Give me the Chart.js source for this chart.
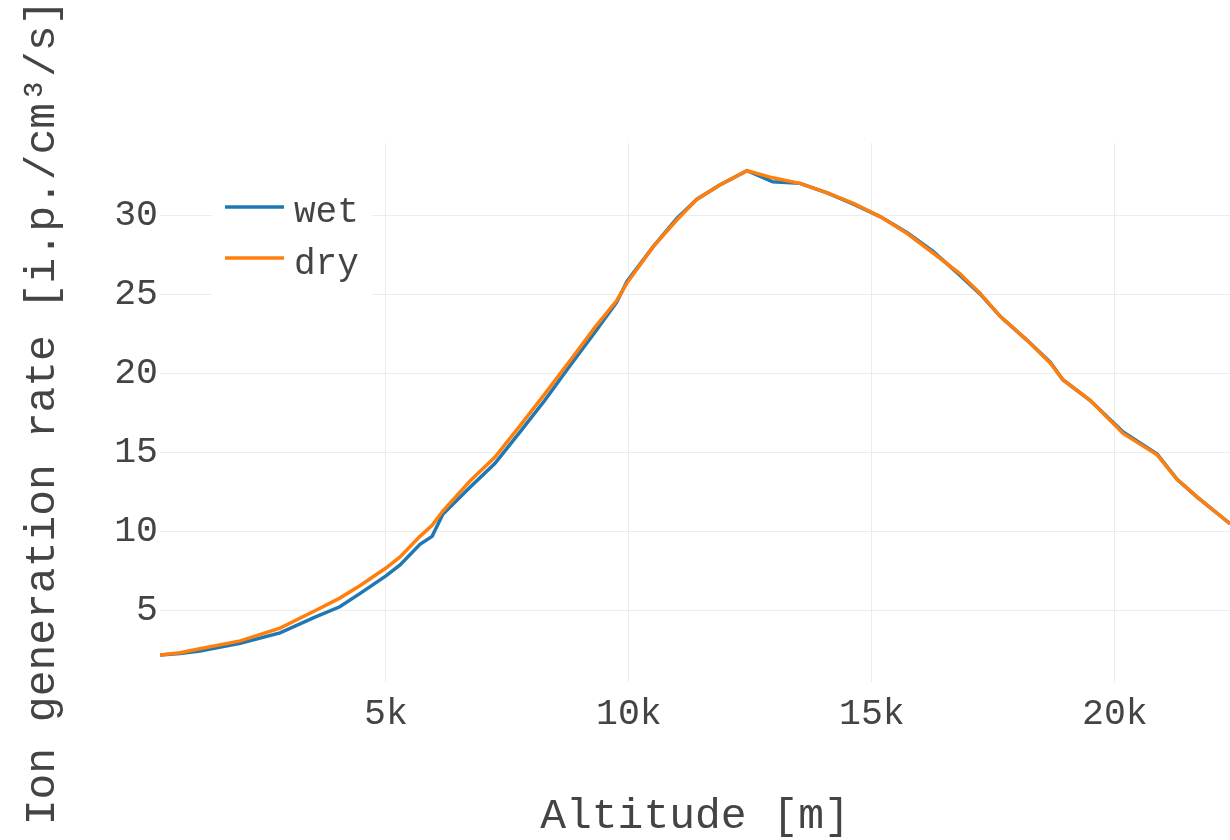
<!DOCTYPE html>
<html>
<head>
<meta charset="utf-8">
<title>Ion generation rate vs altitude</title>
<script src="https://cdn.jsdelivr.net/npm/chart.js@4.4.1/dist/chart.umd.min.js"></script>
<style>
  html, body { margin: 0; padding: 0; background: #ffffff; }
  #wrap { width: 1230px; height: 840px; }
</style>
</head>
<body>
<div id="wrap"><canvas id="plot" width="1230" height="840"></canvas></div>
<script>
// Altitude samples [m] shared by both profiles
const altitude = [350, 760, 1170, 2000, 2820, 3540, 4050, 4470, 5000, 5290,
  5700, 5950, 6170, 6730, 7240, 7760, 8270, 8790, 9300, 9750,
  9960, 10500, 10990, 11400, 11870, 12430, 12960, 13520, 14080, 14610,
  15170, 15720, 16260, 16810, 17230, 17640, 18190, 18670, 18930, 19490,
  20170, 20870, 21280, 21690, 22370];

// Ion generation rate [i.p./cm^3/s], humid atmosphere
const wetRate = [2.2, 2.3, 2.45, 2.95, 3.6, 4.6, 5.25, 6.1, 7.2, 7.9,
  9.2, 9.7, 11.1, 12.8, 14.3, 16.3, 18.3, 20.5, 22.6, 24.5,
  25.8, 28.0, 29.8, 31.0, 31.9, 32.8, 32.1, 32.0, 31.4, 30.7,
  29.9, 28.9, 27.7, 26.2, 25.0, 23.6, 22.1, 20.7, 19.6, 18.3,
  16.3, 14.9, 13.3, 12.2, 10.5];

// Ion generation rate [i.p./cm^3/s], dry atmosphere
const dryRate = [2.2, 2.35, 2.6, 3.1, 3.9, 5.0, 5.8, 6.6, 7.7, 8.4,
  9.7, 10.4, 11.3, 13.2, 14.7, 16.7, 18.7, 20.8, 22.9, 24.6,
  25.7, 28.0, 29.7, 31.0, 31.9, 32.8, 32.35, 32.0, 31.4, 30.75,
  29.9, 28.85, 27.6, 26.3, 25.05, 23.6, 22.1, 20.65, 19.6, 18.3,
  16.2, 14.85, 13.3, 12.2, 10.5];

const seriesNames = ['wet', 'dry'];
const seriesColors = ['#1f77b4', '#ff7f0e'];

const xTicks = [5000, 10000, 15000, 20000];
const xTickLabels = ['5k', '10k', '15k', '20k'];
const yTicks = [5, 10, 15, 20, 25, 30];

const FONT = '"Liberation Mono", "DejaVu Sans Mono", monospace';
const TEXT = '#444444';
const GRID = '#ececec';

const toPoints = (ys) => altitude.map((a, i) => ({ x: a, y: ys[i] }));

// Legend drawn inside the plot, top-left, on a white backing box
const insetLegend = {
  id: 'insetLegend',
  afterDatasetsDraw(chart) {
    const ctx = chart.ctx;
    ctx.save();
    ctx.fillStyle = '#ffffff';
    ctx.fillRect(212, 182, 160, 114);
    chart.data.datasets.forEach((ds, i) => {
      const yLine = 207 + i * 51;
      ctx.strokeStyle = ds.borderColor;
      ctx.lineWidth = ds.borderWidth;
      ctx.beginPath();
      ctx.moveTo(225, yLine);
      ctx.lineTo(284, yLine);
      ctx.stroke();
      ctx.fillStyle = TEXT;
      ctx.font = '36px ' + FONT;
      ctx.textAlign = 'left';
      ctx.textBaseline = 'alphabetic';
      ctx.fillText(ds.label, 294, 222 + i * 52);
    });
    ctx.restore();
  }
};

new Chart(document.getElementById('plot'), {
  type: 'line',
  data: {
    datasets: [
      { label: seriesNames[0], data: toPoints(wetRate), borderColor: seriesColors[0],
        backgroundColor: seriesColors[0], borderWidth: 3.5, pointRadius: 0,
        tension: 0, fill: false, order: 1 },
      { label: seriesNames[1], data: toPoints(dryRate), borderColor: seriesColors[1],
        backgroundColor: seriesColors[1], borderWidth: 3.5, pointRadius: 0,
        tension: 0, fill: false, order: 0 }
    ]
  },
  options: {
    responsive: false,
    animation: false,
    devicePixelRatio: 1,
    layout: { padding: { top: 143, right: 0, left: 0, bottom: 0 } },
    plugins: { legend: { display: false }, tooltip: { enabled: false } },
    scales: {
      x: {
        type: 'linear',
        min: 350,
        max: 22370,
        grid: { color: GRID, lineWidth: 1, drawTicks: false },
        border: { display: false },
        afterBuildTicks: (s) => { s.ticks = xTicks.map(v => ({ value: v })); },
        afterFit: (s) => { s.height = 158; },
        ticks: {
          padding: 10,
          color: TEXT,
          font: { family: FONT, size: 36.5 },
          maxRotation: 0,
          callback: (v) => xTickLabels[xTicks.indexOf(v)]
        },
        title: {
          display: true,
          text: 'Altitude [m]',
          color: TEXT,
          font: { family: FONT, size: 43 },
          padding: { top: 0, bottom: -2 }
        }
      },
      y: {
        min: 0.5,
        max: 34.55,
        grid: { color: GRID, lineWidth: 1, drawTicks: false },
        border: { display: false },
        afterBuildTicks: (s) => { s.ticks = yTicks.map(v => ({ value: v })); },
        afterFit: (s) => { s.width = 160; },
        ticks: {
          padding: 2,
          color: TEXT,
          font: { family: FONT, size: 36.5 },
          callback: (v) => String(v)
        },
        title: {
          display: true,
          text: 'Ion generation rate [i.p./cm³/s]',
          color: TEXT,
          font: { family: FONT, size: 43 },
          padding: { top: 17, bottom: 0 }
        }
      }
    }
  },
  plugins: [insetLegend]
});
</script>
</body>
</html>
